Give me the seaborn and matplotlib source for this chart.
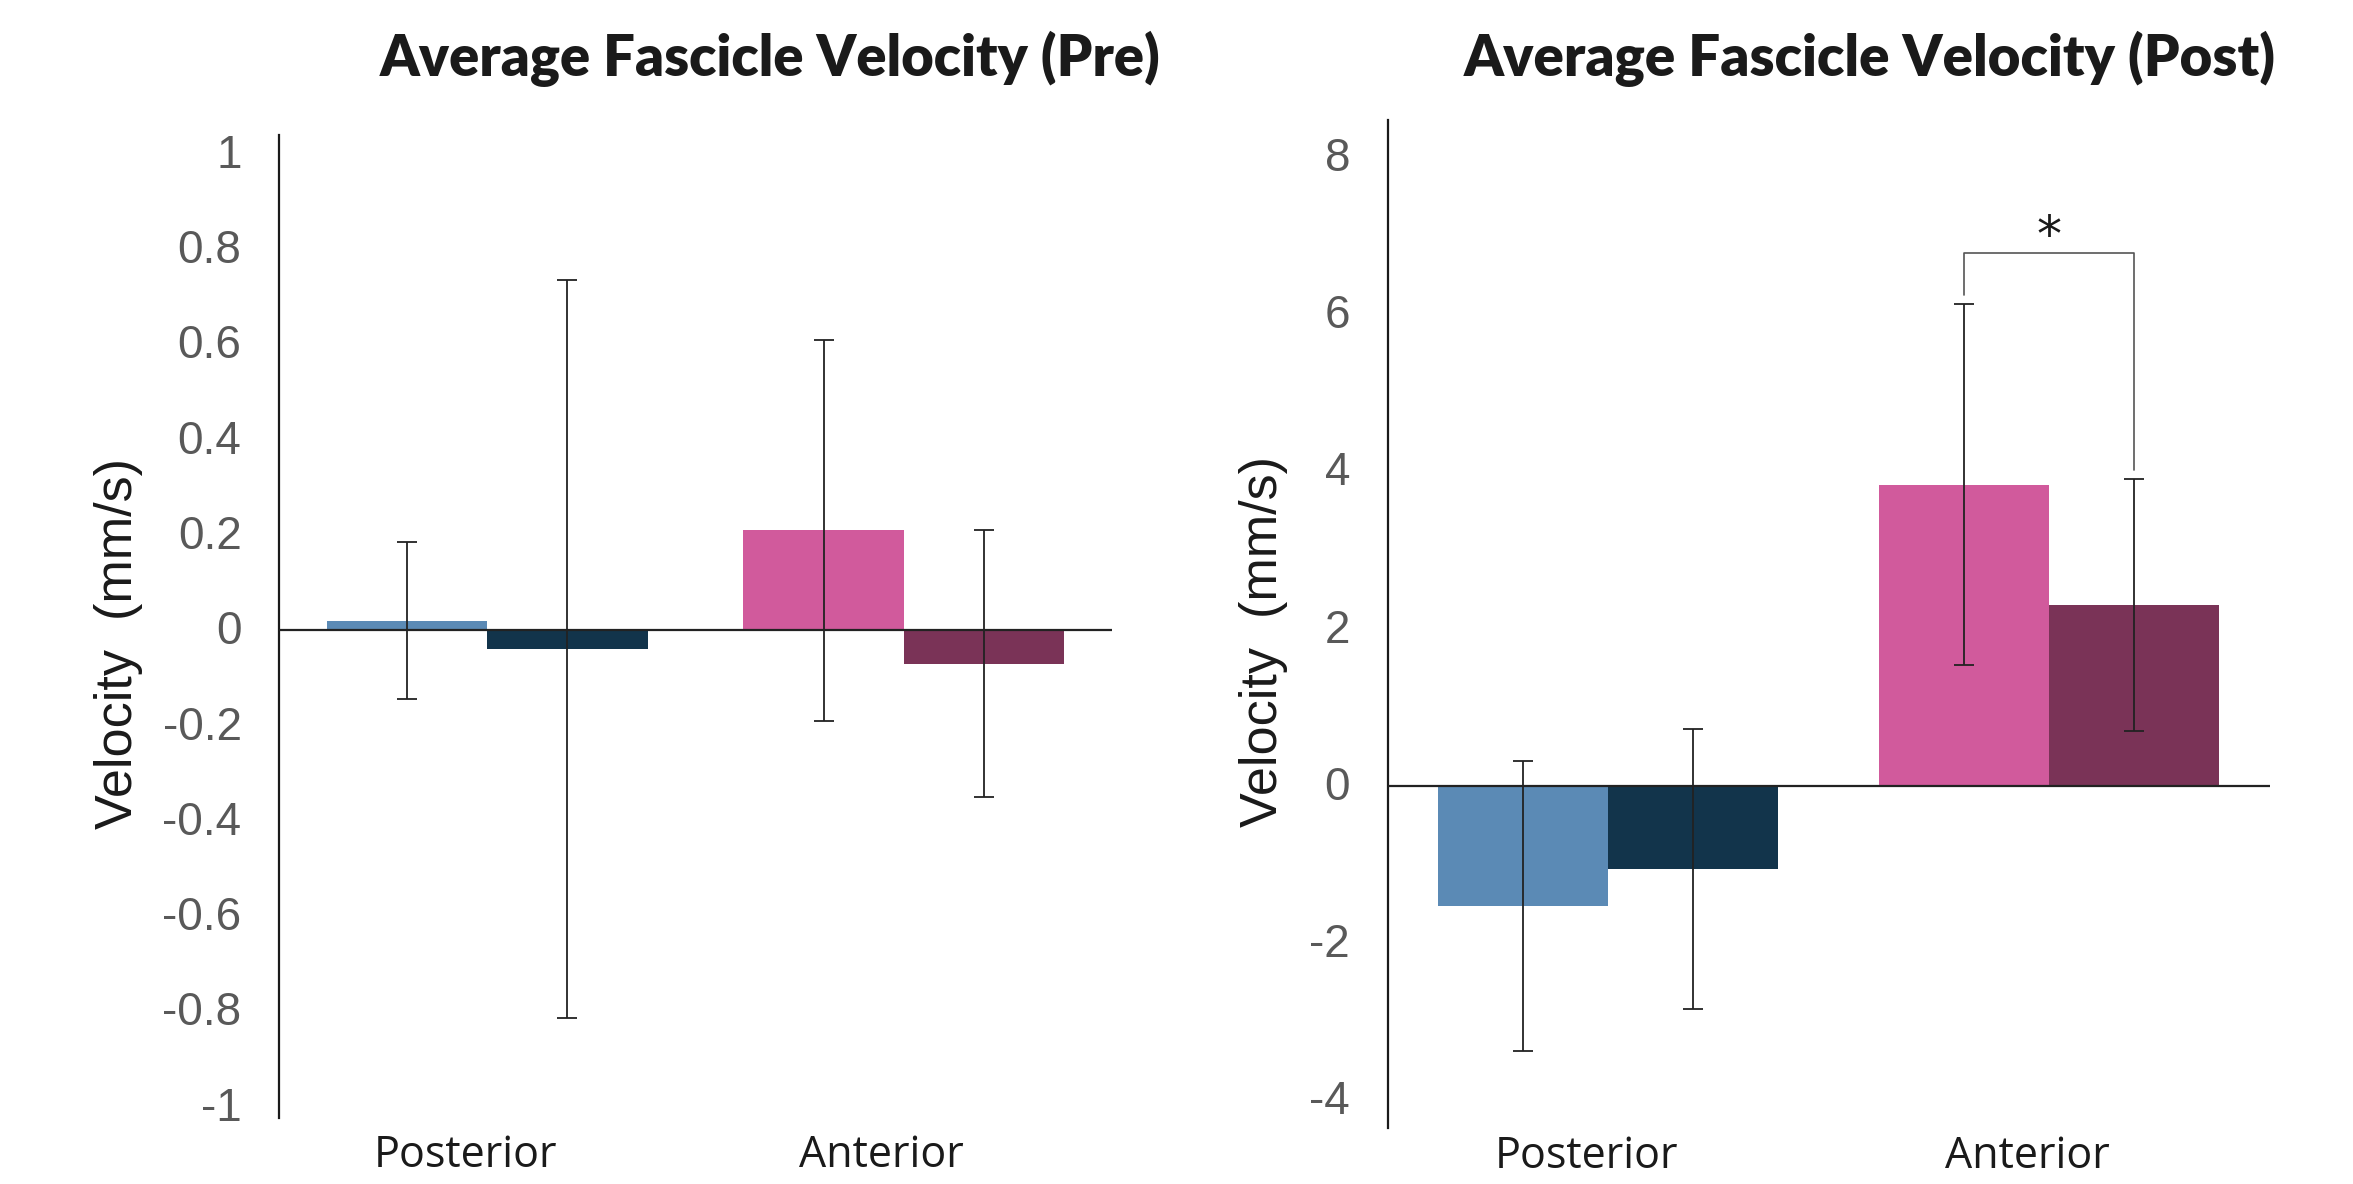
import matplotlib
matplotlib.use("Agg")
import matplotlib.pyplot as plt
import seaborn as sns
import pandas as pd
from matplotlib.transforms import ScaledTranslation

# ---------------- data ----------------
categories = ["Posterior", "Anterior"]
groups = ["Group 1", "Group 2"]

pre_means_g1 = [0.02, 0.21]
pre_means_g2 = [-0.04, -0.07]
pre_err_g1 = [0.165, 0.40]
pre_err_g2 = [0.775, 0.28]

post_means_g1 = [-1.53, 3.83]
post_means_g2 = [-1.06, 2.30]
post_err_g1 = [1.84, 2.29]
post_err_g2 = [1.78, 1.60]

pre_ticks = [1, 0.8, 0.6, 0.4, 0.2, 0, -0.2, -0.4, -0.6, -0.8, -1]
pre_ticklabels = ["1", "0.8", "0.6", "0.4", "0.2", "0", "-0.2", "-0.4", "-0.6", "-0.8", "-1"]
post_ticks = [8, 6, 4, 2, 0, -2, -4]
post_ticklabels = ["8", "6", "4", "2", "0", "-2", "-4"]

titles = ["Average Fascicle Velocity (Pre)", "Average Fascicle Velocity (Post)"]
ylabel = "Velocity  (mm/s)"

bar_colors = {
    ("Posterior", "Group 1"): "#5B8AB5",
    ("Posterior", "Group 2"): "#12344B",
    ("Anterior", "Group 1"): "#D15A9C",
    ("Anterior", "Group 2"): "#7A3357",
}

# significance bracket (Post, Anterior)
sig_bracket_top = 6.77
sig_left_bottom = 6.24
sig_right_bottom = 4.01
sig_star_y = 6.80

# ---------------- style ----------------
sns.set_style("white")
plt.rcParams["font.family"] = ["Liberation Sans", "DejaVu Sans"]

fig = plt.figure(figsize=(23.53, 11.84), dpi=100)
ax_pre = fig.add_axes([0.1186, 0.0557, 0.354, 0.830])
ax_post = fig.add_axes([0.5897, 0.0473, 0.375, 0.851])


def draw(ax, m1, m2, e1, e2, ticks, ticklabels, ylim, label_x, xlab_pad):
    df = pd.DataFrame({
        "region": categories * 2,
        "group": [groups[0]] * len(categories) + [groups[1]] * len(categories),
        "velocity": m1 + m2,
    })
    sns.barplot(data=df, x="region", y="velocity", hue="group",
                order=categories, hue_order=groups, errorbar=None,
                width=0.77, saturation=1, legend=False, ax=ax, zorder=2)
    means = [m1, m2]
    errs = [e1, e2]
    centers = {}
    for bar in ax.patches:
        cx = bar.get_x() + bar.get_width() / 2
        ci = int(round(cx))
        gi = 0 if cx < ci else 1
        bar.set_facecolor(bar_colors[(categories[ci], groups[gi])])
        bar.set_edgecolor("none")
        centers[(ci, gi)] = cx
        ax.errorbar(cx, means[gi][ci], yerr=errs[gi][ci], fmt="none",
                    ecolor="#222222", elinewidth=1.3, capsize=7.5,
                    capthick=1.3, zorder=4)
    ax.axhline(0, color="#222222", lw=1.6, zorder=3)
    ax.set_xlim(-0.5, 1.5)
    ax.set_ylim(*ylim)
    ax.set_yticks(ticks)
    ax.set_yticklabels(ticklabels)
    ax.tick_params(axis="y", length=0, pad=27, labelsize=33, labelcolor="#595959")
    ax.tick_params(axis="x", length=0, pad=xlab_pad, labelsize=31)
    for lab in ax.get_yticklabels():
        lab.set_transform(lab.get_transform() + ScaledTranslation(0, 3 / 100, fig.dpi_scale_trans))
    for lab in ax.get_xticklabels():
        lab.set_fontfamily(["Open Sans", "DejaVu Sans"])
        lab.set_color("#1a1a1a")
        lab.set_transform(lab.get_transform() + ScaledTranslation(-22 / 100, 0, fig.dpi_scale_trans))
    ax.set_xlabel("")
    ax.set_ylabel(ylabel, fontsize=37.5, color="#1a1a1a")
    ax.yaxis.set_label_coords(label_x, 0.483)
    for s in ["top", "right", "bottom"]:
        ax.spines[s].set_visible(False)
    ax.spines["left"].set_color("#1a1a1a")
    ax.spines["left"].set_linewidth(1.6)
    ax.grid(False)
    return centers


draw(ax_pre, pre_means_g1, pre_means_g2, pre_err_g1, pre_err_g2,
     pre_ticks, pre_ticklabels, (-1.024, 1.039), -0.163, 11)
centers = draw(ax_post, post_means_g1, post_means_g2, post_err_g1, post_err_g2,
               post_ticks, post_ticklabels, (-4.35, 8.46), -0.113, 5)

# significance bracket
xl = centers[(1, 0)]
xr = centers[(1, 1)]
ax_post.plot([xl, xl, xr, xr],
             [sig_left_bottom, sig_bracket_top, sig_bracket_top, sig_right_bottom],
             color="#555555", lw=1.2, zorder=5)
ax_post.text((xl + xr) / 2, sig_star_y, "*", ha="center", va="baseline",
             fontsize=36, family="DejaVu Sans", color="#1a1a1a")

# titles
title_pos = [(770 / 2353, 1 - 76 / 1184, 780), (1870 / 2353, 1 - 76 / 1184, 812)]
fig.canvas.draw()
renderer = fig.canvas.get_renderer()
for t, (x, y, target_w) in zip(titles, title_pos):
    txt = fig.text(x, y, t, ha="center", va="baseline", fontsize=40,
                   fontweight="heavy", family=["Lato", "DejaVu Sans"], color="#1a1a1a")
    w = txt.get_window_extent(renderer).width
    txt.set_fontsize(40 * target_w / w)

fig.savefig("out.png", dpi=100, facecolor="white")
